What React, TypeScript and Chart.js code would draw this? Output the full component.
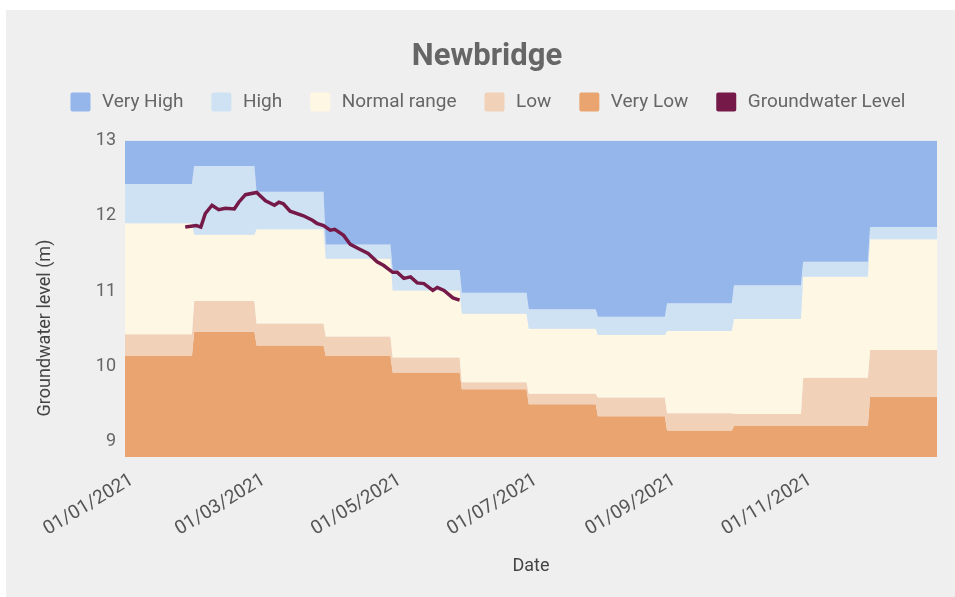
import React, { useEffect, useRef } from 'react';
import { Chart, registerables } from 'chart.js';

Chart.register(...registerables);

// ---- data ----
const chartTitle = 'Newbridge';
const yAxisTitle = 'Groundwater level (m)';
const xAxisTitle = 'Date';

const months = ['2021-01', '2021-02', '2021-03', '2021-04', '2021-05', '2021-06', '2021-07', '2021-08', '2021-09', '2021-10', '2021-11', '2021-12'];
// upper boundary of each band (m), per month
const veryLowUpper = [10.14, 10.46, 10.28, 10.14, 9.92, 9.70, 9.50, 9.34, 9.15, 9.21, 9.21, 9.60];
const lowUpper = [10.43, 10.87, 10.57, 10.40, 10.12, 9.79, 9.64, 9.59, 9.38, 9.37, 9.85, 10.22];
const normalUpper = [11.90, 11.75, 11.82, 11.43, 11.01, 10.70, 10.50, 10.42, 10.47, 10.63, 11.19, 11.69];
const highUpper = [12.42, 12.66, 12.32, 11.62, 11.28, 10.98, 10.76, 10.66, 10.84, 11.08, 11.39, 11.85];

const gwDates = [
  '2021-01-28', '2021-02-02', '2021-02-04', '2021-02-06', '2021-02-09', '2021-02-12', '2021-02-15', '2021-02-19',
  '2021-02-21', '2021-02-24', '2021-03-01', '2021-03-05', '2021-03-09', '2021-03-11', '2021-03-13', '2021-03-16',
  '2021-03-22', '2021-03-26', '2021-03-28', '2021-03-31', '2021-04-03', '2021-04-05', '2021-04-09', '2021-04-12',
  '2021-04-16', '2021-04-20', '2021-04-24', '2021-04-27', '2021-05-01', '2021-05-03', '2021-05-06', '2021-05-09',
  '2021-05-12', '2021-05-15', '2021-05-19', '2021-05-21', '2021-05-24', '2021-05-28', '2021-05-31',
];
const gwLevels = [
  11.85, 11.87, 11.85, 12.03, 12.14, 12.08, 12.10, 12.09,
  12.18, 12.28, 12.31, 12.20, 12.14, 12.18, 12.16, 12.06,
  12.00, 11.94, 11.90, 11.87, 11.81, 11.82, 11.74, 11.62,
  11.56, 11.50, 11.39, 11.34, 11.25, 11.25, 11.17, 11.19,
  11.11, 11.10, 11.01, 11.05, 11.01, 10.91, 10.88,
];

const xStart = '2021-01-01';
const xEnd = '2021-12-31';
const xTickDates = ['2021-01-01', '2021-03-01', '2021-05-01', '2021-07-01', '2021-09-01', '2021-11-01'];
const xTickLabels = ['01/01/2021', '01/03/2021', '01/05/2021', '01/07/2021', '01/09/2021', '01/11/2021'];
const yTicks = [9, 10, 11, 12, 13];
const yMin = 8.8;
const yMax = 13;

const bandNames = ['Very High', 'High', 'Normal range', 'Low', 'Very Low'];
const bandColors = ['#95b6eb', '#cfe2f3', '#fef7e3', '#f1d1b8', '#e9a46f'];
const gwName = 'Groundwater Level';
const gwColor = '#751a48';
const panelColor = '#efefef';

// ---- helpers ----
const ORIGIN = Date.UTC(2021, 0, 1);
const DAY = 86400000;
const dayOf = (iso: string) => {
  const [y, m, d] = iso.split('-').map(Number);
  return (Date.UTC(y, m - 1, d) - ORIGIN) / DAY;
};
const monthEdges = months.map((m) => {
  const [y, mo] = m.split('-').map(Number);
  return [(Date.UTC(y, mo - 1, 1) - ORIGIN) / DAY, (Date.UTC(y, mo, 0) - ORIGIN) / DAY];
});
const stepSeries = (vals: number[]) =>
  vals.flatMap((v, i) => [{ x: monthEdges[i][0], y: v }, { x: monthEdges[i][1], y: v }]);

const yTitlePlugin = {
  id: 'yTitleCustom',
  afterDraw(chart: any) {
    const { ctx } = chart;
    ctx.save();
    ctx.translate(39, 318);
    ctx.rotate(-Math.PI / 2);
    ctx.font = '18px Roboto';
    ctx.fillStyle = '#444';
    ctx.textAlign = 'center';
    ctx.textBaseline = 'middle';
    ctx.fillText(yAxisTitle, 0, 0);
    ctx.restore();
  },
};

export default function App() {
  const ref = useRef<HTMLCanvasElement | null>(null);

  useEffect(() => {
    if (!ref.current) return;
    Chart.defaults.font.family = 'Roboto';
    const band = (i: number, data: number[], fill: any) => ({
      label: bandNames[i],
      data: stepSeries(data),
      backgroundColor: bandColors[i],
      borderColor: 'transparent',
      borderWidth: 0,
      pointRadius: 0,
      fill,
    });
    const chart = new Chart(ref.current, {
      type: 'line',
      data: {
        datasets: [
          band(0, highUpper, 'end'),
          band(1, normalUpper, 0),
          band(2, lowUpper, 1),
          band(3, veryLowUpper, 2),
          band(4, veryLowUpper, 'start'),
          {
            label: gwName,
            data: gwDates.map((d, i) => ({ x: dayOf(d), y: gwLevels[i] })),
            borderColor: gwColor,
            backgroundColor: gwColor,
            borderWidth: 3.5,
            pointRadius: 0,
            fill: false,
          },
        ],
      },
      options: {
        responsive: false,
        animation: false,
        events: [],
        layout: { padding: { left: 31, right: 18, top: 0, bottom: 0 } },
        plugins: {
          filler: { drawTime: 'beforeDatasetsDraw' },
          tooltip: { enabled: false },
          title: {
            display: true,
            text: chartTitle,
            color: '#666',
            font: { size: 31, weight: 'bold', lineHeight: 0.4 },
            padding: { top: 41, bottom: 1 },
          },
          legend: {
            labels: {
              color: '#666',
              font: { size: 19 },
              boxWidth: 24,
              boxHeight: 23,
              padding: 26,
              useBorderRadius: true,
              borderRadius: 4,
              generateLabels: (c: any) =>
                Chart.defaults.plugins.legend.labels
                  .generateLabels(c)
                  .map((l: any) => ({ ...l, lineWidth: 4, strokeStyle: panelColor })),
            },
          },
        },
        scales: {
          x: {
            type: 'linear',
            min: dayOf(xStart),
            max: dayOf(xEnd),
            grid: { display: false, drawTicks: false },
            border: { display: false },
            afterBuildTicks: (s: any) => {
              s.ticks = xTickDates.map((d) => ({ value: dayOf(d) }));
            },
            afterFit: (s: any) => {
              s.height = 140;
            },
            ticks: {
              autoSkip: false,
              minRotation: 31,
              maxRotation: 31,
              padding: 12,
              labelOffset: 7,
              color: '#555',
              font: { size: 19 },
              callback: (v: any) => {
                const i = xTickDates.findIndex((d) => dayOf(d) === v);
                return i >= 0 ? xTickLabels[i] : '';
              },
            },
            title: {
              display: true,
              text: xAxisTitle,
              color: '#444',
              font: { size: 18, lineHeight: 1.2 },
              padding: { top: 4, bottom: 20 },
            },
          },
          spacer: {
            type: 'linear',
            axis: 'x',
            position: 'top',
            grid: { display: false, drawTicks: false },
            border: { display: false },
            ticks: { display: false },
            afterFit: (s: any) => {
              s.height = 17;
            },
          },
          y: {
            type: 'linear',
            min: yMin,
            max: yMax,
            grid: { display: false, drawTicks: false },
            border: { display: false },
            afterBuildTicks: (s: any) => {
              s.ticks = yTicks.map((v) => ({ value: v }));
            },
            afterFit: (s: any) => {
              s.width = 88;
            },
            ticks: { padding: 9, color: '#666', font: { size: 18 } },
          },
        },
      },
      plugins: [yTitlePlugin],
    } as any);
    return () => chart.destroy();
  }, []);

  return (
    <div style={{ position: 'absolute', left: 6, top: 10, width: 949, height: 587, background: panelColor }}>
      <canvas ref={ref} width={949} height={587} style={{ display: 'block' }} />
    </div>
  );
}
